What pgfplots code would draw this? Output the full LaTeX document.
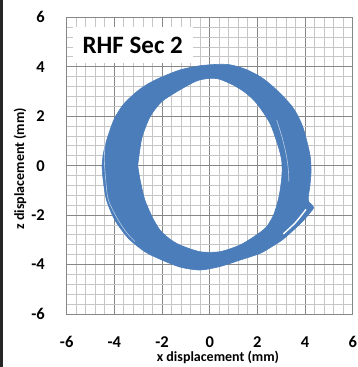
\documentclass[border=0pt]{standalone}
\usepackage{pgfplots}
\pgfplotsset{compat=1.18}
\usepackage{fontspec}
\setmainfont{Carlito}
\definecolor{band}{RGB}{74,125,186}
\definecolor{majgrid}{RGB}{135,135,135}
\definecolor{mingrid}{RGB}{198,198,198}
\begin{document}
\begin{tikzpicture}
\useasboundingbox (0,0) rectangle (358pt,367pt);
\fill[black!85] (0,0) rectangle (3pt,367pt);
\begin{axis}[
  at={(66.7pt,53pt)}, anchor=south west,
  scale only axis, width=286pt, height=296.7pt,
  xmin=-6, xmax=6, ymin=-6, ymax=6,
  xtick={-6,-4,-2,0,2,4,6}, ytick={-6,-4,-2,0,2,4,6},
  xticklabels={-6,-4,-2,0,2,4,6}, yticklabels={-6,-4,-2,0,2,4,6},
  minor tick num=4,
  grid=both,
  major grid style={majgrid, line width=0.8pt},
  minor grid style={mingrid, line width=0.8pt},
  axis line style={majgrid, line width=0.8pt},
  major tick length=0pt, minor tick length=0pt,
  tick style={draw=none},
  ticklabel style={font=\fontsize{16.5}{18}\selectfont\bfseries},
  xticklabel style={anchor=base, inner sep=0pt, yshift=-33pt},
  yticklabel style={anchor=east, inner sep=0pt, xshift=-21.7pt},
  xlabel={x displacement (mm)},
  ylabel={z displacement (mm)},
  label style={font=\fontsize{14}{16}\selectfont\bfseries},
  xlabel style={at={([yshift=-47pt]axis description cs:0.529,0)}, anchor=base},
  ylabel style={at={([xshift=-46.7pt]axis description cs:0,0.49)}, anchor=center},
  unbounded coords=jump,
]
\addplot[fill=band, draw=band, line width=0.6pt, even odd rule, smooth, tension=0.45] coordinates {
(-4.52,0) (-4.47,-0.58) (-4.33,-1.39) (-3.98,-2.2) (-3.41,-2.94) (-2.72,-3.48)
(-2.09,-3.78) (-1.25,-4.1) (-0.41,-4.22) (0.43,-4.08) (1.27,-3.82) (2.11,-3.55)
(2.6,-3.28) (3.05,-3.0) (3.5,-2.62) (3.95,-2.2) (4.28,-1.82) (4.36,-1.7)
(4.28,-1.58) (4.15,-1.45) (4.14,-1.25) (4.2,-0.85) (4.25,-0.3) (4.23,0.3)
(4.1,0.9) (3.93,1.5) (3.72,1.98) (3.45,2.4) (3.1,2.78) (2.65,3.2) (2.15,3.58)
(1.5,3.9) (0.9,4.07) (0.43,4.1) (-0.41,4.04) (-1.25,3.87) (-2.09,3.55)
(-2.6,3.3) (-3.05,3.0) (-3.6,2.5) (-4.0,1.9) (-4.3,1.1) (-4.46,0.5) (-4.52,0)
(nan,nan)
(-3.02,0) (-2.92,-0.58) (-2.72,-1.39) (-2.4,-2.1) (-2.09,-2.6) (-1.7,-2.95)
(-1.25,-3.21) (-0.41,-3.48) (0.43,-3.48) (1.27,-3.21) (1.97,-2.8) (2.39,-2.47)
(2.7,-1.95) (2.92,-1.2) (3.03,-0.4) (3.02,0.2) (2.88,0.77) (2.53,1.71)
(1.97,2.52) (1.5,2.95) (0.99,3.26) (0.4,3.5) (0,3.53) (-0.41,3.47) (-0.62,3.4)
(-1.28,3.05) (-2.01,2.59) (-2.5,1.98) (-2.85,1.1) (-3.02,0)
};
% thin gaps between loops
\addplot[white, line width=0.6pt, opacity=0.6, smooth] coordinates {
(-4.39,0.9) (-4.42,0.23) (-4.36,-0.6) (-4.25,-1.39) (-3.84,-2.2) (-3.45,-2.75) (-3.13,-3.07)
};
\addplot[white, line width=0.6pt, opacity=0.6, smooth] coordinates {
(2.81,1.85) (3.05,1.1) (3.22,0.4) (3.3,-0.17) (3.32,-0.65)
};
\addplot[white, line width=1.4pt, smooth] coordinates {
(4.04,-1.77) (3.6,-2.3) (3.09,-2.76)
};
\node[fill=white, inner sep=0pt, minimum width=120pt, minimum height=36pt,
      font=\fontsize{25}{28}\selectfont\bfseries] at (axis cs:-3.23,4.87) {RHF Sec 2};
\end{axis}
\end{tikzpicture}
\end{document}
